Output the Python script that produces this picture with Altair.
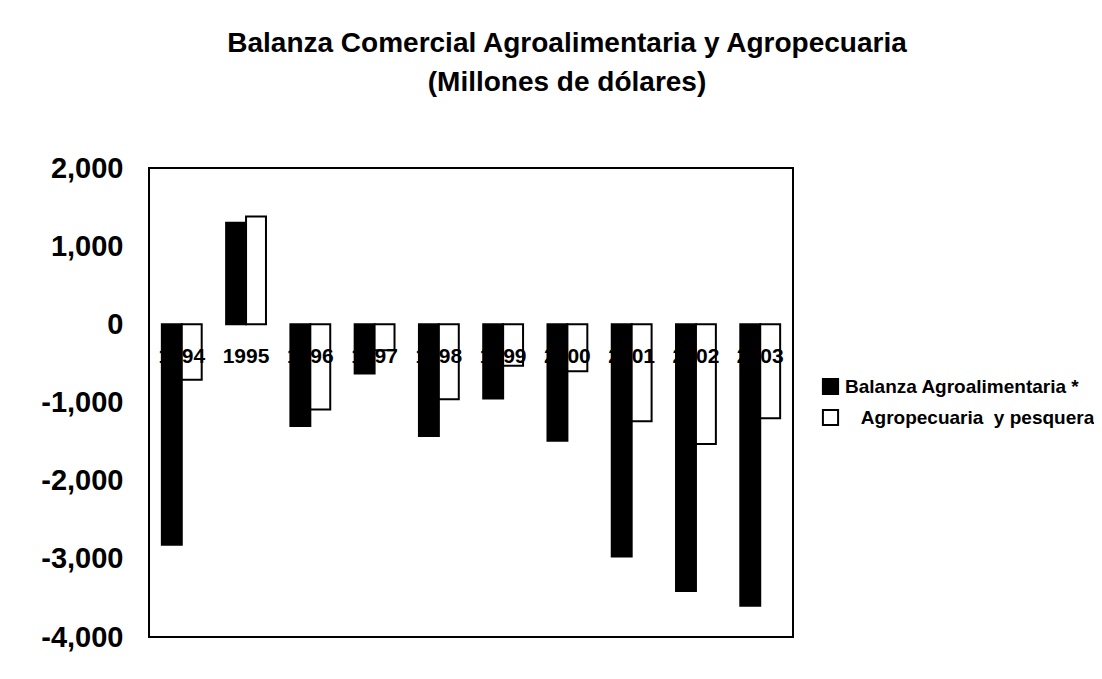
import altair as alt
import pandas as pd

years = ["1994", "1995", "1996", "1997", "1998", "1999", "2000", "2001", "2002", "2003"]
series = ["Balanza Agroalimentaria *", "\u200b\u00a0\u00a0\u00a0Agropecuaria\u00a0 y pesquera"]
balanza = [-2820, 1300, -1300, -630, -1430, -950, -1490, -2970, -3410, -3600]
agropec = [-710, 1380, -1090, -330, -960, -530, -600, -1240, -1530, -1200]
y_ticks = [-4000, -3000, -2000, -1000, 0, 1000, 2000]
title_lines = ["Balanza Comercial Agroalimentaria y Agropecuaria", "(Millones de dólares)"]

rows = []
for i, yr in enumerate(years):
    rows.append({"year": yr, "serie": series[0], "value": balanza[i]})
    rows.append({"year": yr, "serie": series[1], "value": agropec[i]})
df = pd.DataFrame(rows)
labels_df = pd.DataFrame({"year": years, "zero": [0] * len(years)})

FONT = "Liberation Sans"

x_enc = alt.X("year:N", sort=years, axis=None,
              scale=alt.Scale(paddingInner=0.38, paddingOuter=0.2))

bars = alt.Chart(df).mark_bar(stroke="black", strokeWidth=2).encode(
    x=x_enc,
    xOffset=alt.XOffset("serie:N", sort=series),
    y=alt.Y("value:Q",
            scale=alt.Scale(domain=[-4000, 2000], nice=False, zero=True),
            axis=alt.Axis(values=y_ticks, title=None, grid=False, ticks=False,
                          domain=False, labelPadding=26, labelFontSize=29,
                          labelFont=FONT, labelFontWeight="bold", labelColor="black",
                          labelExpr="(datum.value < 0 ? '-' : '') + format(abs(datum.value), ',')")),
    color=alt.Color("serie:N", sort=series,
                    scale=alt.Scale(domain=series, range=["#000000", "#ffffff"]),
                    legend=alt.Legend(title=None, orient="none", legendX=672, legendY=209,
                                      symbolType="square", symbolSize=230,
                                      symbolStrokeColor="black", symbolStrokeWidth=2,
                                      labelFont=FONT, labelFontSize=19, labelFontWeight="bold",
                                      labelColor="black", labelOffset=5, rowPadding=6,
                                      labelLimit=400)),
)

texts = alt.Chart(labels_df).mark_text(
    dy=33, fontSize=21, font=FONT, fontWeight="bold", color="black", baseline="middle"
).encode(
    x=alt.X("year:N", sort=years, axis=None),
    y=alt.Y("zero:Q"),
    text="year:N",
)

chart = alt.layer(bars, texts).properties(
    width=644,
    height=469,
    padding={"left": 141, "top": 160, "right": 301, "bottom": 34},
    autosize=alt.AutoSizeParams(type="none"),
    title=alt.Title(title_lines, font=FONT, fontSize=28, fontWeight="bold", color="black",
                    anchor="middle", dx=96, lineHeight=39, offset=57),
).configure_view(stroke="black", strokeWidth=2)

chart.save("out.html", embed_options={"renderer": "svg", "actions": False})
